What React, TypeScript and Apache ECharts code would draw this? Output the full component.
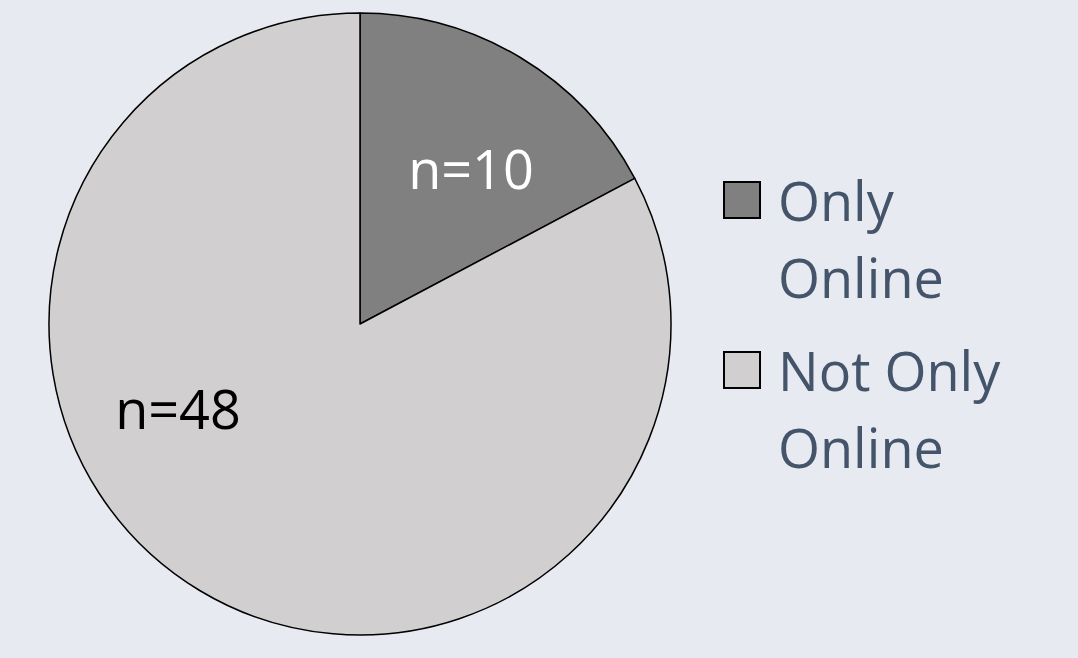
import React, { useEffect, useRef } from "react";
import * as echarts from "echarts";

const categories = ["Only Online", "Not Only Online"];
const legendLines = [["Only", "Online"], ["Not Only", "Online"]];
const values = [10, 48];
const colors = ["#808080", "#D1CFD0"];
const labelColors = ["#FFFFFF", "#000000"];

export default function App() {
  const ref = useRef<HTMLDivElement>(null);
  useEffect(() => {
    const chart = echarts.init(ref.current!, null, { renderer: "svg" });
    const font = "'Open Sans', 'Noto Sans', sans-serif";
    const labelPos = [
      [471, 168],
      [178, 408],
    ];
    const legendTop = [182, 352];
    const graphic: any[] = [];
    categories.forEach((c, i) => {
      graphic.push({
        type: "text",
        z: 100,
        x: labelPos[i][0],
        y: labelPos[i][1],
        style: {
          text: `n=${values[i]}`,
          fill: labelColors[i],
          font: `54px ${font}`,
          align: "center",
          verticalAlign: "middle",
        },
        silent: true,
      });
      graphic.push({
        type: "rect",
        z: 100,
        x: 724,
        y: legendTop[i],
        shape: { width: 36, height: 36 },
        style: { fill: colors[i], stroke: "#000", lineWidth: 2 },
      });
      graphic.push({
        type: "text",
        z: 100,
        x: 778,
        y: legendTop[i] + 18 - 38.5,
        style: {
          text: legendLines[i].join("\n"),
          fill: "#44546A",
          font: `54px ${font}`,
          lineHeight: 77,
          align: "left",
          verticalAlign: "top",
        },
      });
    });
    chart.setOption({
      animation: false,
      backgroundColor: "#E7EAF0",
      graphic,
      series: [
        {
          type: "pie",
          center: [360, 324],
          radius: 311,
          startAngle: 90,
          clockwise: true,
          label: { show: false },
          labelLine: { show: false },
          itemStyle: { borderColor: "#000", borderWidth: 1.5 },
          emphasis: { disabled: true },
          data: categories.map((c, i) => ({
            name: c,
            value: values[i],
            itemStyle: { color: colors[i] },
          })),
        },
      ],
    });
    return () => chart.dispose();
  }, []);
  return (
    <div
      ref={ref}
      style={{ position: "fixed", left: 0, top: 0, width: 1078, height: 658 }}
    />
  );
}
